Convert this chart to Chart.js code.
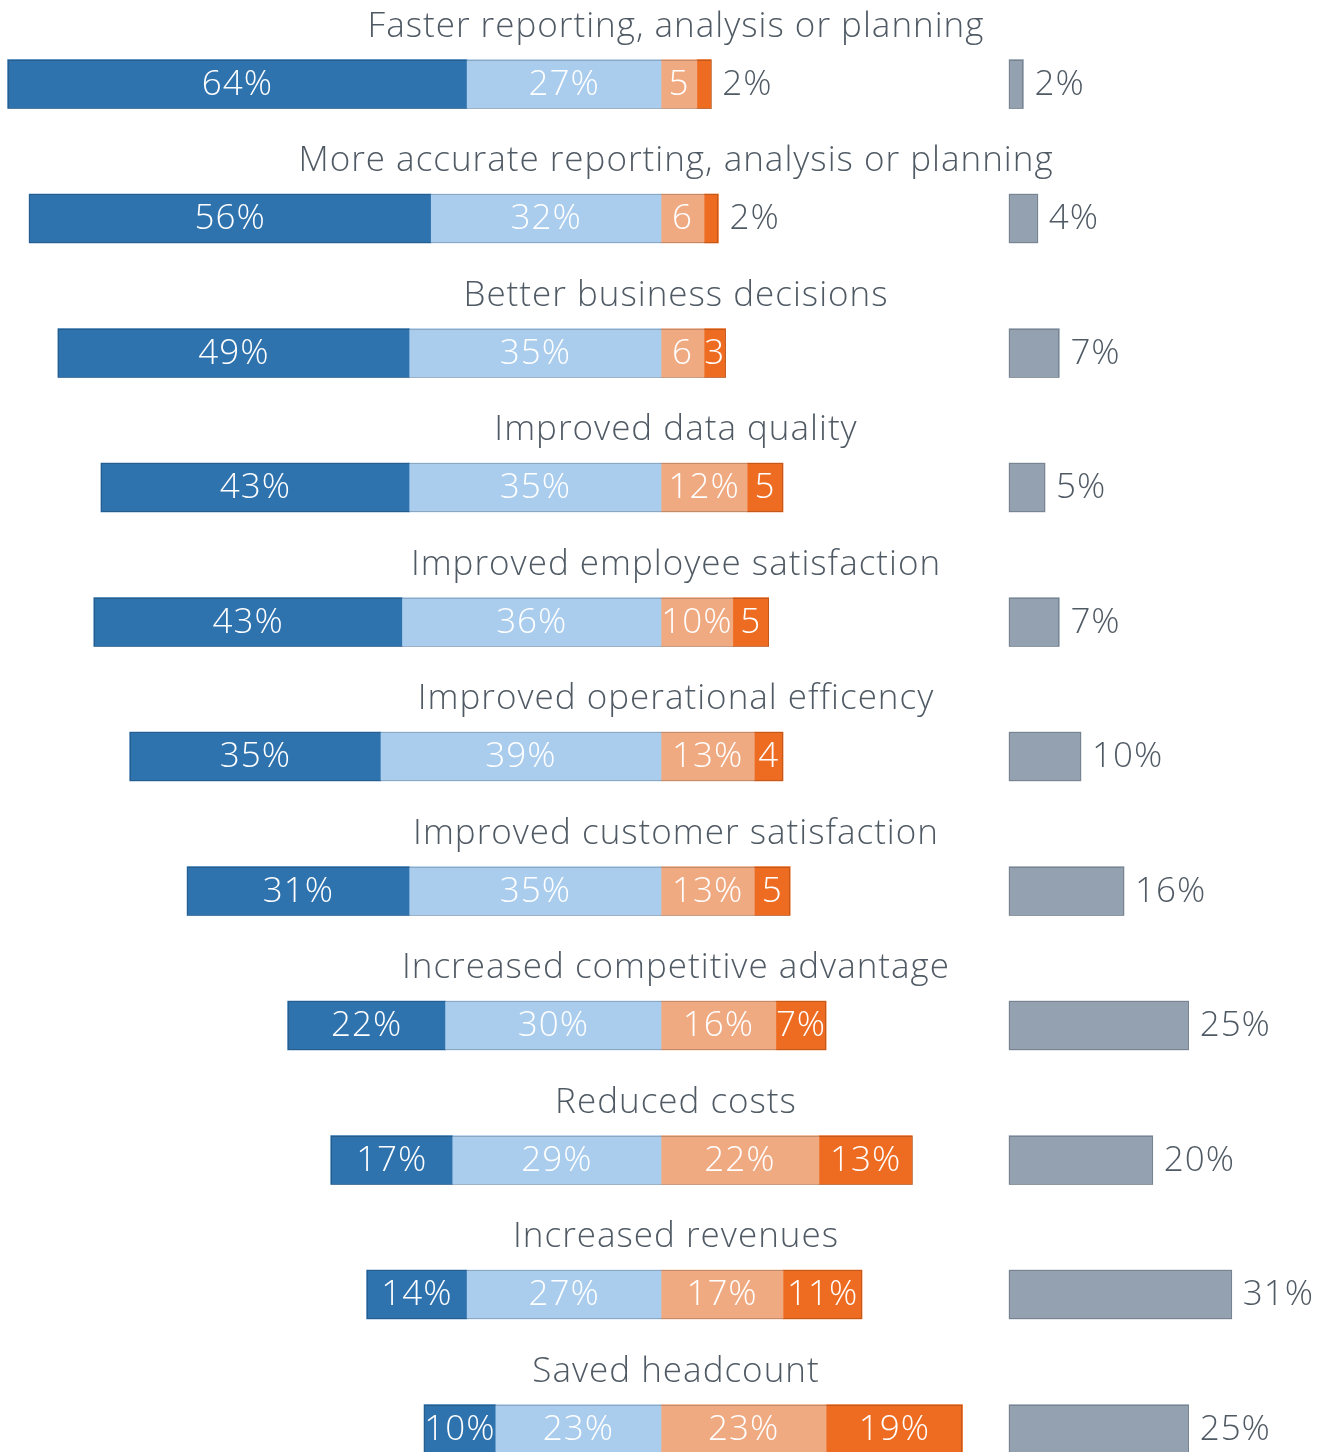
<!DOCTYPE html>
<html>
<head>
<meta charset="utf-8">
<script src="https://cdn.jsdelivr.net/npm/chart.js@4.4.0/dist/chart.umd.min.js"></script>
<style>
  html, body { margin: 0; padding: 0; background: #fff; }
  #wrap { width: 1328px; height: 1452px; position: relative; }
</style>
</head>
<body>
<div id="wrap"><canvas id="chart"></canvas></div>
<script>
(function () {
    "use strict";

    const categories = [
        "Faster reporting, analysis or planning",
        "More accurate reporting, analysis or planning",
        "Better business decisions",
        "Improved data quality",
        "Improved employee satisfaction",
        "Improved operational efficency",
        "Improved customer satisfaction",
        "Increased competitive advantage",
        "Reduced costs",
        "Increased revenues",
        "Saved headcount",
    ];
    const strongPositive = [64, 56, 49, 43, 43, 35, 31, 22, 17, 14, 10];
    const positive = [27, 32, 35, 35, 36, 39, 35, 30, 29, 27, 23];
    const negative = [5, 6, 6, 12, 10, 13, 13, 16, 22, 17, 23];
    const strongNegative = [2, 2, 3, 5, 5, 4, 5, 7, 13, 11, 19];
    const unknown = [2, 4, 7, 5, 7, 10, 16, 25, 20, 31, 25];

    const FONT = "'Open Sans', 'Noto Sans', sans-serif";
    const TEXT = "#505a64";

    function bar(label, data, color, axis) {
        return {
            label: label,
            data: data,
            backgroundColor: color,
            borderWidth: 0,
            barThickness: 49,
            clip: false,
            xAxisID: axis || "x",
        };
    }

    // thin outline round each stacked bar, labels, category titles
    const labelPlugin = {
        id: "segmentLabels",
        afterDatasetsDraw(chart) {
            const ctx = chart.ctx;
            ctx.save();
            // outlines
            ctx.strokeStyle = "rgba(0,0,0,0.18)";
            ctx.lineWidth = 1;
            categories.forEach((c, i) => {
                let lo = Infinity, hi = -Infinity, y = 0, h = 0;
                for (let di = 0; di < 4; di++) {
                    const el = chart.getDatasetMeta(di).data[i];
                    lo = Math.min(lo, el.x, el.base);
                    hi = Math.max(hi, el.x, el.base);
                    y = el.y; h = el.height;
                }
                ctx.strokeRect(Math.round(lo) + 0.5, Math.round(y - h / 2) + 0.5,
                    Math.round(hi - lo) - 1, Math.round(h) - 1);
                const g = chart.getDatasetMeta(4).data[i];
                ctx.strokeRect(Math.round(g.base) + 0.5, Math.round(g.y - h / 2) + 0.5,
                    Math.round(g.x - g.base) - 1, Math.round(h) - 1);
            });

            ctx.textBaseline = "middle";
            ctx.font = "300 35px " + FONT;
            ctx.letterSpacing = "1px";
            chart.data.datasets.forEach((ds, di) => {
                const meta = chart.getDatasetMeta(di);
                meta.data.forEach((el, i) => {
                    const v = Math.abs(ds.data[i]);
                    const x0 = Math.min(el.x, el.base);
                    const x1 = Math.max(el.x, el.base);
                    if (ds.outside || v <= 2) {
                        ctx.fillStyle = TEXT;
                        ctx.textAlign = "left";
                        ctx.fillText(v + "%", x1 + 11, el.y + 1);
                    } else {
                        ctx.fillStyle = "#ffffff";
                        ctx.textAlign = "center";
                        const txt = v >= 7 ? v + "%" : String(v);
                        ctx.fillText(txt, (x0 + x1) / 2, el.y + 1);
                    }
                });
            });
            const meta0 = chart.getDatasetMeta(0);
            ctx.fillStyle = TEXT;
            ctx.textAlign = "center";
            categories.forEach((c, i) => {
                ctx.fillText(c, 676, meta0.data[i].y - 57);
            });
            ctx.restore();
        },
    };

    const grayDs = bar("Don't know", unknown, "#93a1b0", "x2");
    grayDs.grouped = false;
    grayDs.outside = true;

    new Chart(document.getElementById("chart"), {
        type: "bar",
        data: {
            labels: categories,
            datasets: [
                bar("Positive", positive.map((v) => -v), "#aacdee"),
                bar("Strong positive", strongPositive.map((v) => -v), "#2e72ae"),
                bar("Negative", negative, "#f0aa82"),
                bar("Strong negative", strongNegative, "#ee6c22"),
                grayDs,
            ],
        },
        plugins: [labelPlugin],
        options: {
            indexAxis: "y",
            responsive: true,
            maintainAspectRatio: false,
            animation: false,
            layout: {
                padding: { top: 84, bottom: 23, left: 0, right: 0 },
            },
            plugins: {
                legend: { display: false },
                tooltip: { enabled: false },
            },
            scales: {
                x: {
                    stacked: true,
                    display: false,
                    min: -92.06,
                    max: 92.9,
                },
                x2: {
                    display: false,
                    min: -140.5,
                    max: 44.4,
                },
                y: {
                    stacked: true,
                    display: false,
                    offset: false,
                },
            },
        },
    });
})();
</script>
</body>
</html>
